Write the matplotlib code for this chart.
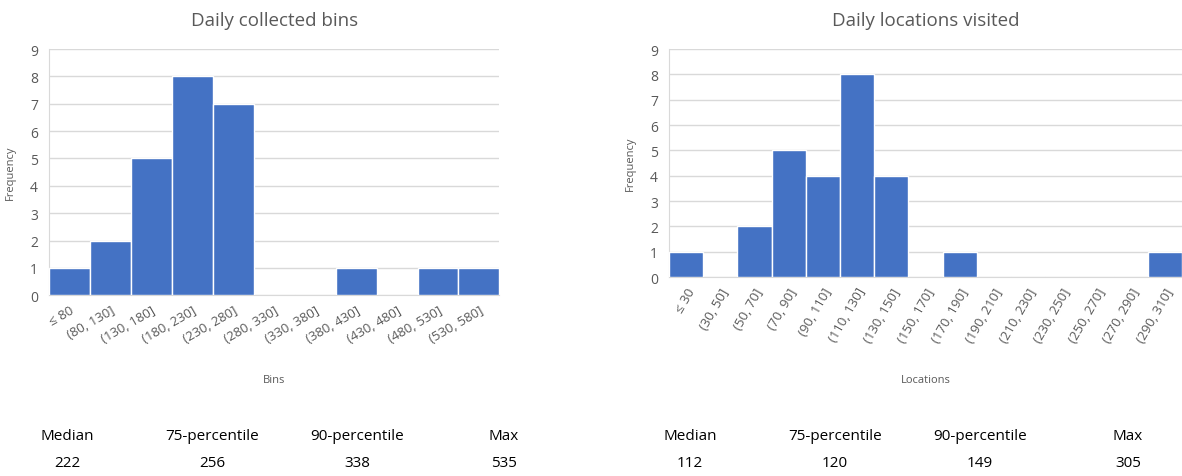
import matplotlib
matplotlib.use("Agg")
import matplotlib.pyplot as plt
import numpy as np

plt.rcParams['font.family'] = ['Open Sans', 'DejaVu Sans']

# left histogram: daily collected bins
bins_labels = ['≤ 80', '(80, 130]', '(130, 180]', '(180, 230]', '(230, 280]', '(280, 330]',
               '(330, 380]', '(380, 430]', '(430, 480]', '(480, 530]', '(530, 580]']
bins_counts = [1, 2, 5, 8, 7, 0, 0, 1, 0, 1, 1]

# right histogram: daily locations visited
loc_labels = ['≤ 30', '(30, 50]', '(50, 70]', '(70, 90]', '(90, 110]', '(110, 130]', '(130, 150]',
              '(150, 170]', '(170, 190]', '(190, 210]', '(210, 230]', '(230, 250]', '(250, 270]',
              '(270, 290]', '(290, 310]']
loc_counts = [1, 0, 2, 5, 4, 8, 4, 0, 1, 0, 0, 0, 0, 0, 1]

stat_names = ['Median', '75-percentile', '90-percentile', 'Max']
bins_stats = [222, 256, 338, 535]
loc_stats = [112, 120, 149, 305]

blue = '#4472C4'
grey = '#595959'
grid = '#D9D9D9'

fig = plt.figure(figsize=(11.82, 4.77), dpi=100)


def hist(ax, labels, counts, title, xlabel, rot, xpad):
    x = np.arange(len(counts))
    ax.bar(x, counts, width=1.0, color=blue, edgecolor='white', linewidth=1, zorder=3)
    ax.set_xlim(-0.5, len(counts) - 0.5)
    ax.set_ylim(0, 9)
    ax.set_yticks(range(10))
    ax.yaxis.grid(True, color=grid, linewidth=1, zorder=0)
    ax.set_xticks(x)
    ax.set_xticklabels(labels, rotation=rot, ha='right', rotation_mode='anchor',
                       fontsize=9.5, color=grey)
    ax.tick_params(axis='y', labelsize=10, labelcolor=grey, length=0, pad=8)
    ax.tick_params(axis='x', length=0, pad=6)
    for s in ['top', 'right']:
        ax.spines[s].set_visible(False)
    ax.spines['left'].set_color(grid)
    ax.spines['bottom'].set_color(grid)
    ax.set_title(title, fontsize=13.5, color=grey, pad=17)
    ax.set_ylabel('Frequency', fontsize=8, color=grey, labelpad=10)
    ax.set_xlabel(xlabel, fontsize=8, color=grey, labelpad=xpad)


ax1 = fig.add_axes([0.0415, 0.379, 0.381, 0.516])
hist(ax1, bins_labels, bins_counts, 'Daily collected bins', 'Bins', 30, 21)

ax2 = fig.add_axes([0.566, 0.417, 0.434, 0.478])
hist(ax2, loc_labels, loc_counts, 'Daily locations visited', 'Locations', 60, 21)

# summary stats below each chart
left_x = [67, 212, 357, 504]
right_x = [690, 835, 980, 1128]
for xs, vals in [(left_x, bins_stats), (right_x, loc_stats)]:
    for px, name, v in zip(xs, stat_names, vals):
        fig.text(px / 1182, 1 - 437 / 477, name, ha='center', va='center', fontsize=11, color='black')
        fig.text(px / 1182, 1 - 464 / 477, str(v), ha='center', va='center', fontsize=11, color='black')

fig.savefig('out.png', dpi=100)
